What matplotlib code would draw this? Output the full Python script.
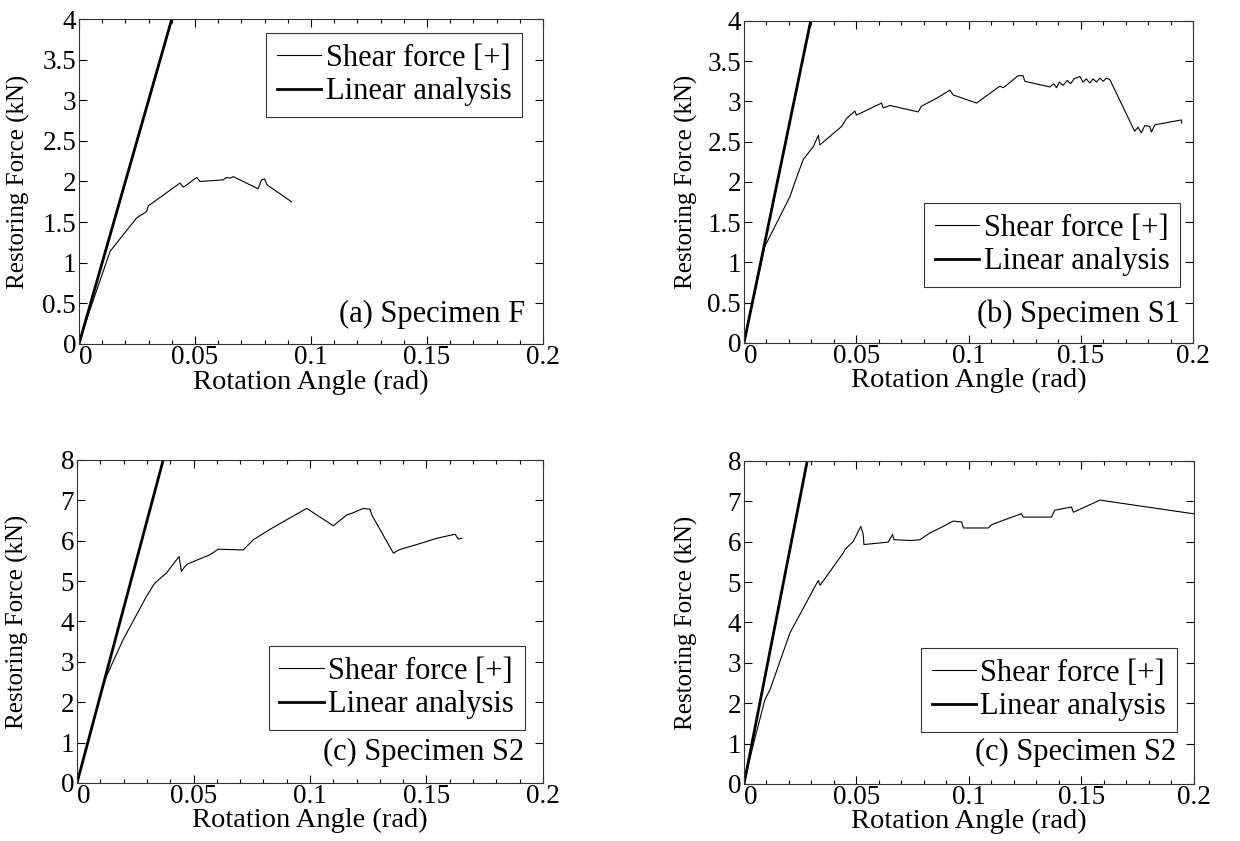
import matplotlib.pyplot as plt
from matplotlib.ticker import MultipleLocator, FuncFormatter

plt.rcParams["font.family"] = ["Liberation Serif", "DejaVu Serif"]

# (a) Specimen F
angle_f = [0, 0.004, 0.0134, 0.0248, 0.0291, 0.0299, 0.0435, 0.0450, 0.0465, 0.0507,
           0.0522, 0.0622, 0.0636, 0.0650, 0.0665, 0.0772, 0.0787, 0.0800, 0.0810, 0.0916]
force_f = [0, 0.36, 1.14, 1.55, 1.63, 1.70, 1.98, 1.93, 1.96, 2.05,
           2.00, 2.02, 2.05, 2.04, 2.06, 1.91, 2.02, 2.03, 1.96, 1.75]
linear_angle_f = [0, 0.040]
linear_force_f = [0, 4.0]

# (b) Specimen S1
angle_s1 = [0, 0.0093, 0.0205, 0.0227, 0.0264, 0.0309, 0.0331, 0.0338, 0.0435, 0.0457,
            0.0494, 0.0501, 0.0613, 0.0620, 0.0650, 0.0776, 0.0790, 0.0858, 0.0917, 0.0932,
            0.1036, 0.1065, 0.1095, 0.1140, 0.1155, 0.1221, 0.1243, 0.1251, 0.1362, 0.1380,
            0.1392, 0.1405, 0.1421, 0.1440, 0.1455, 0.1470, 0.1496, 0.1510, 0.1525, 0.1540,
            0.1555, 0.1570, 0.1585, 0.1600, 0.1614, 0.1630, 0.1740, 0.1755, 0.1770, 0.1785,
            0.1807, 0.1815, 0.1830, 0.1948, 0.1950]
force_s1 = [0, 1.20, 1.82, 2.00, 2.28, 2.44, 2.58, 2.46, 2.69, 2.79,
            2.88, 2.83, 2.98, 2.92, 2.95, 2.87, 2.94, 3.04, 3.14, 3.08,
            2.98, 3.04, 3.10, 3.19, 3.17, 3.32, 3.32, 3.25, 3.18, 3.22,
            3.17, 3.24, 3.20, 3.26, 3.22, 3.28, 3.31, 3.24, 3.28, 3.23,
            3.28, 3.24, 3.29, 3.25, 3.29, 3.27, 2.63, 2.68, 2.61, 2.70,
            2.69, 2.62, 2.71, 2.77, 2.73]
linear_angle_s1 = [0, 0.0297]
linear_force_s1 = [0, 4.0]

# (c) Specimen S2
angle_s2 = [0, 0.0115, 0.0198, 0.0298, 0.0334, 0.0384, 0.0438, 0.0448, 0.0463, 0.0477,
            0.0570, 0.0606, 0.0713, 0.0756, 0.0828, 0.0885, 0.0986, 0.1100, 0.1158, 0.1180,
            0.1229, 0.1258, 0.1265, 0.1358, 0.1380, 0.1501, 0.1544, 0.1623, 0.1637, 0.1652]
force_s2 = [0, 2.50, 3.55, 4.62, 4.95, 5.20, 5.61, 5.24, 5.36, 5.43,
            5.65, 5.79, 5.77, 6.02, 6.28, 6.47, 6.80, 6.37, 6.64, 6.68,
            6.80, 6.78, 6.64, 5.69, 5.77, 5.98, 6.06, 6.16, 6.04, 6.06]
linear_angle_s2 = [0, 0.037]
linear_force_s2 = [0, 8.0]

# (d) second S2 panel (label repeated as in the original)
angle_s2b = [0, 0.0041, 0.0093, 0.0116, 0.0204, 0.0330, 0.0338, 0.0441, 0.0449, 0.0486,
             0.0519, 0.0530, 0.0533, 0.0641, 0.0660, 0.0667, 0.0745, 0.0782, 0.0827, 0.0886,
             0.0930, 0.0967, 0.0975, 0.1086, 0.1100, 0.1181, 0.1233, 0.1241, 0.1367, 0.1381,
             0.1455, 0.1464, 0.1582, 0.2000]
force_s2b = [0, 0.97, 2.09, 2.34, 3.74, 5.04, 4.92, 5.72, 5.81, 6.01,
             6.38, 6.18, 5.93, 5.99, 6.18, 6.05, 6.03, 6.05, 6.22, 6.38,
             6.51, 6.49, 6.34, 6.34, 6.42, 6.59, 6.69, 6.61, 6.61, 6.78,
             6.86, 6.73, 7.03, 6.69]
linear_angle_s2b = [0, 0.0281]
linear_force_s2b = [0, 8.0]

titles = ["(a) Specimen F", "(b) Specimen S1", "(c) Specimen S2", "(c) Specimen S2"]
angle_ticks = [0, 0.05, 0.1, 0.15, 0.2]
force_ticks_small = [0, 0.5, 1, 1.5, 2, 2.5, 3, 3.5, 4]
force_ticks_large = [0, 1, 2, 3, 4, 5, 6, 7, 8]

panels = [
    (angle_f, force_f, linear_angle_f, linear_force_f, force_ticks_small),
    (angle_s1, force_s1, linear_angle_s1, linear_force_s1, force_ticks_small),
    (angle_s2, force_s2, linear_angle_s2, linear_force_s2, force_ticks_large),
    (angle_s2b, force_s2b, linear_angle_s2b, linear_force_s2b, force_ticks_large),
]

# axes rectangles in figure fraction
rects = [
    [0.0637, 0.5910, 0.3742, 0.3864],
    [0.6000, 0.5922, 0.3621, 0.3829],
    [0.0621, 0.0690, 0.3758, 0.3841],
    [0.6000, 0.0678, 0.3629, 0.3841],
]
legend_anchor = [(0.955, 0.957, "upper right"), (0.971, 0.174, "lower right"),
                 (0.961, 0.164, "lower right"), (0.962, 0.161, "lower right")]
title_pos = [(0.961, 0.068), (0.971, 0.065), (0.960, 0.071), (0.960, 0.074)]
ylabel_x = [-0.105, -0.103, -0.103, -0.103]

fmt = FuncFormatter(lambda v, p: "%g" % round(v, 4))

fig = plt.figure(figsize=(12.4, 8.41), dpi=100)
axes = []
for i, (ax_x, ax_y, lin_x, lin_y, yticks) in enumerate(panels):
    ax = fig.add_axes(rects[i])
    axes.append(ax)
    ax.plot(ax_x, ax_y, color="black", linewidth=0.8, label="Shear force [+]")
    ax.plot(lin_x, lin_y, color="black", linewidth=2.0, label="Linear analysis")
    ax.set_xlim(angle_ticks[0], angle_ticks[-1])
    ax.set_ylim(yticks[0], yticks[-1])
    ax.set_xticks(angle_ticks)
    ax.set_yticks(yticks)
    ax.xaxis.set_minor_locator(MultipleLocator(0.01))
    ax.xaxis.set_major_formatter(fmt)
    ax.yaxis.set_major_formatter(fmt)
    ax.tick_params(which="both", direction="in", top=True, right=True, width=0.8)
    ax.tick_params(which="major", length=6, labelsize=19.5)
    ax.tick_params(axis="x", which="major", pad=1)
    ax.tick_params(axis="y", which="major", pad=2)
    ax.tick_params(which="minor", length=3)
    for sp in ax.spines.values():
        sp.set_linewidth(0.8)
        sp.set_color("#333333")

    ax.set_xlabel("Rotation Angle (rad)", fontsize=20.5)
    ax.xaxis.label.set_va("center")
    ax.xaxis.set_label_coords(0.5, -0.117)
    ax.set_ylabel("Restoring Force (kN)", fontsize=18)
    ax.yaxis.set_label_coords(ylabel_x[i], 0.5)

    bx, by, loc = legend_anchor[i]
    leg = ax.legend(loc=loc, bbox_to_anchor=(bx, by), fontsize=22, frameon=True,
                    fancybox=False, handlelength=1.45, handletextpad=0.15,
                    borderpad=0.35, labelspacing=0.15, borderaxespad=0)
    leg.get_frame().set_edgecolor("black")
    leg.get_frame().set_linewidth(0.8)

    tx, ty = title_pos[i]
    ax.text(tx, ty, titles[i], transform=ax.transAxes, ha="right", va="baseline",
            fontsize=22)

# as in the original, the x "0" starts at the axis instead of being centred on it
fig.canvas.draw()
for ax in axes:
    ax.xaxis.get_major_ticks()[0].label1.set_horizontalalignment("left")

fig.savefig("out.png", dpi=100)
